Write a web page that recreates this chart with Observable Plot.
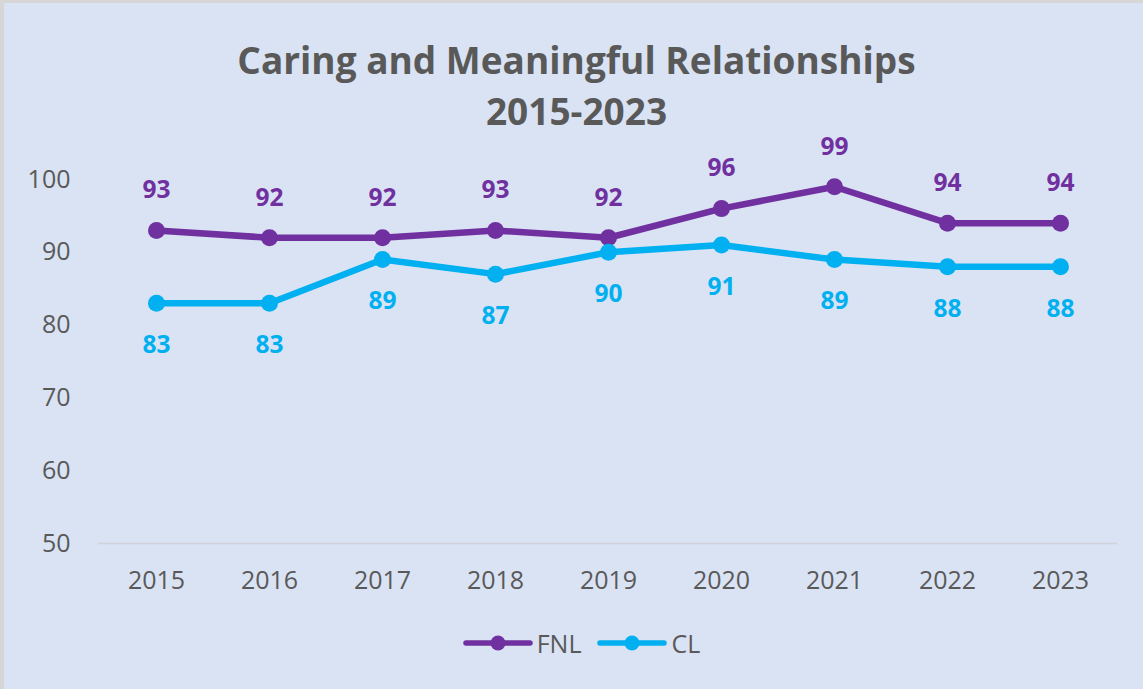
<!DOCTYPE html>
<html>
<head>
<meta charset="utf-8">
<script src="https://cdn.jsdelivr.net/npm/d3@7"></script>
<script src="https://cdn.jsdelivr.net/npm/@observablehq/plot@0.6"></script>
<style>
  html, body { margin: 0; padding: 0; }
  body { width: 1143px; height: 689px; overflow: hidden; font-family: "Open Sans", sans-serif; }
  #wrap { position: relative; width: 1143px; height: 689px; background: #dae3f3; box-shadow: inset 4px 3px 0 #d6d6d6; }
  #title { position: absolute; left: 0; top: 34px; width: 1153px; text-align: center; color: #595959; font-weight: 700; font-size: 37px; line-height: 51px; }
  #chart { position: absolute; left: 0; top: 130px; }
  #legend { position: absolute; left: 0; top: 628px; width: 1163px; display: flex; justify-content: center; gap: 16px; color: #595959; font-size: 25px; line-height: 30px; }
  .item { display: flex; align-items: center; gap: 4px; }
  .item svg { display: block; }
</style>
</head>
<body>
<div id="wrap">
  <div id="title">Caring and Meaningful Relationships<br>2015-2023</div>
  <div id="chart"></div>
  <div id="legend"></div>
</div>
<script>
const years = ["2015","2016","2017","2018","2019","2020","2021","2022","2023"];
const fnl = [93, 92, 92, 93, 92, 96, 99, 94, 94];
const cl  = [83, 83, 89, 87, 90, 91, 89, 88, 88];
const seriesNames = ["FNL", "CL"];
const seriesColors = ["#7030a0", "#00b0f0"];
const yTicks = [50, 60, 70, 80, 90, 100];

const rows = [];
years.forEach((y, i) => {
  rows.push({year: y, value: fnl[i], series: "FNL"});
  rows.push({year: y, value: cl[i], series: "CL"});
});
const fnlRows = rows.filter(d => d.series === "FNL");
const clRows = rows.filter(d => d.series === "CL");

const plot = Plot.plot({
  width: 1143,
  height: 480,
  marginLeft: 98,
  marginRight: 26,
  marginTop: 49,
  marginBottom: 67,
  style: { background: "transparent", fontFamily: "Open Sans, sans-serif", color: "#595959" },
  x: { type: "point", domain: years, padding: 0.5, label: null },
  y: { domain: [50, 100], label: null },
  color: { domain: seriesNames, range: seriesColors },
  marks: [
    Plot.ruleY([50], { stroke: "#d0d3da", strokeWidth: 1.5 }),
    Plot.axisY({ ticks: yTicks, tickSize: 0, tickPadding: 28, fontSize: 25, label: null, fill: "#595959" }),
    Plot.axisX({ tickSize: 0, tickPadding: 28, fontSize: 25, label: null, fill: "#595959" }),
    Plot.line(rows, { x: "year", y: "value", z: "series", stroke: "series", strokeWidth: 6.5, curve: "linear" }),
    Plot.dot(rows, { x: "year", y: "value", fill: "series", r: 8.5, stroke: "none" }),
    Plot.text(fnlRows, { x: "year", y: "value", text: d => String(d.value), dy: -40, fill: seriesColors[0], fontSize: 24.5, fontWeight: 700 }),
    Plot.text(clRows, { x: "year", y: "value", text: d => String(d.value), dy: 42, fill: seriesColors[1], fontSize: 24.5, fontWeight: 700 })
  ]
});
document.getElementById("chart").appendChild(plot);

const legend = document.getElementById("legend");
seriesNames.forEach((name, i) => {
  const item = document.createElement("div");
  item.className = "item";
  item.innerHTML = `<svg width="70" height="20"><line x1="3" x2="67" y1="10" y2="10" stroke="${seriesColors[i]}" stroke-width="5.5" stroke-linecap="round"/><circle cx="35" cy="10" r="7.5" fill="${seriesColors[i]}"/></svg><span>${name}</span>`;
  legend.appendChild(item);
});
</script>
</body>
</html>
